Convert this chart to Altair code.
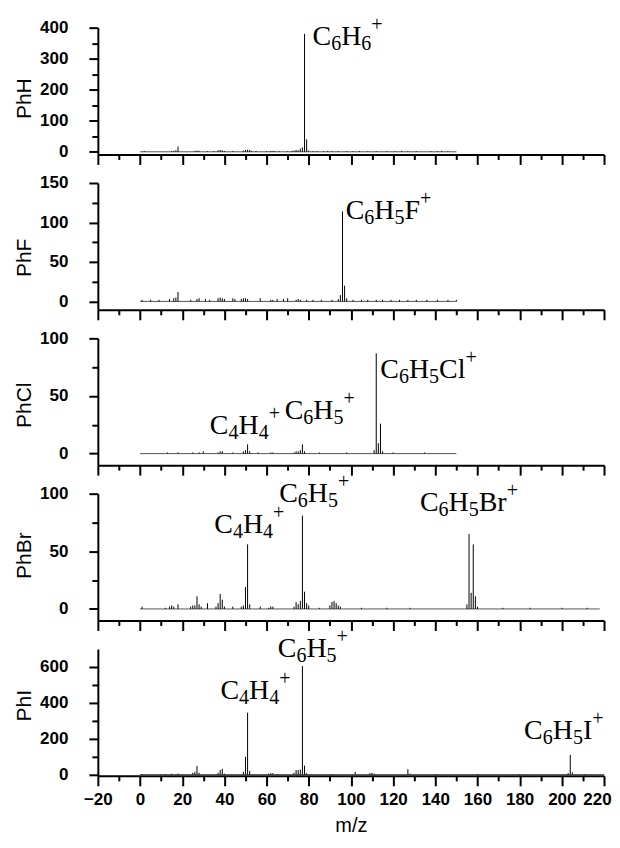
import altair as alt
import pandas as pd

# ---------------- data ----------------
panel_names = ["PhH", "PhF", "PhCl", "PhBr", "PhI"]

phh_mz = [2, 15, 16, 17, 18, 26, 27, 28, 32, 35, 37, 38, 39, 40, 44, 49, 50, 51, 52, 53, 55, 60, 62, 63, 64,
          66, 70, 72, 73, 74, 75, 76, 77, 78, 79, 80, 82, 84, 87, 89, 91, 94, 98, 101, 104, 108, 112, 117,
          121, 124, 127, 131, 138, 141, 143, 146]
phh_int = [3, 2, 3, 5, 17, 3, 4, 3, 2, 2, 5, 6, 5, 3, 3, 4, 6, 7, 6, 3, 3, 2, 3, 3, 2,
           2, 2, 3, 4, 6, 5, 10, 14, 380, 40, 4, 2, 2, 2, 3, 2, 2, 2, 2, 3, 2, 2, 2,
           2, 3, 2, 2, 2, 2, 3, 2]

phf_mz = [1, 5, 9, 14, 16, 17, 18, 24, 27, 28, 31, 33, 37, 38, 39, 40, 44, 45, 48, 49, 50, 51, 57, 62, 63,
          65, 68, 70, 74, 75, 76, 79, 82, 86, 91, 94, 95, 96, 97, 98, 101, 105, 108, 112, 115, 119, 123,
          127, 131, 136, 141, 146, 150]
phf_int = [2, 2, 2, 3, 4, 5, 12, 2, 3, 4, 3, 2, 4, 5, 4, 3, 4, 3, 3, 4, 4, 3, 4, 2, 2,
           3, 3, 4, 2, 3, 2, 2, 2, 2, 2, 3, 8, 114, 20, 4, 2, 2, 2, 2, 2, 2, 2,
           2, 2, 2, 2, 2, 2]

phcl_mz = [13, 18, 25, 28, 30, 37, 38, 39, 44, 49, 50, 51, 52, 56, 62, 63, 73, 74, 75, 76, 77, 78, 85, 98,
           111, 112, 113, 114, 115, 120, 135]
phcl_int = [1, 1, 1, 1, 2, 1, 2, 2, 1, 2, 3, 8, 2, 1, 1, 1, 1, 2, 2, 3, 8, 2, 1, 1,
            3, 87, 9, 26, 2, 1, 1]

phbr_mz = [1, 12, 14, 15, 16, 18, 24, 25, 26, 27, 28, 29, 32, 36, 37, 38, 39, 40, 44, 48, 49, 50, 51, 52,
           57, 61, 62, 63, 73, 74, 75, 76, 77, 78, 79, 80, 85, 90, 91, 92, 93, 94, 95, 105, 117, 128,
           155, 156, 157, 158, 159, 160, 172, 185, 200, 212]
phbr_int = [2, 1, 2, 3, 2, 4, 2, 3, 3, 11, 4, 2, 5, 2, 5, 13, 8, 2, 2, 2, 3, 19, 56, 4,
            2, 1, 2, 2, 2, 6, 4, 7, 81, 15, 5, 3, 1, 3, 6, 7, 5, 3, 2, 1, 1, 1,
            4, 65, 14, 56, 11, 2, 1, 1, 1, 1]

phi_mz = [1, 12, 15, 18, 25, 26, 27, 28, 37, 38, 39, 40, 49, 50, 51, 52, 61, 62, 63, 65, 73, 74, 75, 76,
          77, 78, 79, 91, 102, 109, 110, 111, 127, 128, 140, 160, 180, 203, 204, 205, 211]
phi_int = [3, 3, 5, 5, 10, 15, 48, 10, 10, 25, 32, 5, 15, 100, 345, 20, 5, 8, 8, 3, 10, 25, 25, 28,
           605, 50, 8, 3, 15, 8, 10, 5, 30, 5, 3, 3, 3, 8, 110, 12, 3]

spectra_mz = [phh_mz, phf_mz, phcl_mz, phbr_mz, phi_mz]
spectra_int = [phh_int, phf_int, phcl_int, phbr_int, phi_int]

# recorded m/z range of each trace (baseline)
trace_start = [0, 0, 0, 0, 0]
trace_end = [150, 150, 150, 218, 220]

# annotations: panel index, formula, m/z anchor, intensity anchor (text baseline)
ann_panel = [0, 1, 2, 2, 2, 3, 3, 3, 4, 4, 4]
ann_text = ["C6H6+", "C6H5F+", "C4H4+", "C6H5+", "C6H5Cl+",
            "C4H4+", "C6H5+", "C6H5Br+", "C4H4+", "C6H5+", "C6H5I+"]
ann_mz = [81.8, 97.5, 33.1, 68.6, 113.9, 35.2, 66.0, 132.7, 38.1, 65.3, 182.1]
ann_y = [344, 104, 17, 30, 66, 66.3, 92.7, 85, 423, 656, 199]

# axes
y_domains = [[-8.5, 400], [-10.6, 150], [-10, 100], [-10, 100], [-7, 700]]
y_tick_values = [[0, 50, 100, 150, 200, 250, 300, 350, 400],
                 [0, 25, 50, 75, 100, 125, 150],
                 [0, 25, 50, 75, 100],
                 [0, 25, 50, 75, 100],
                 [0, 100, 200, 300, 400, 500, 600]]
y_major_step = [100, 50, 50, 50, 200]
title_y = [70.6, 74.5, 66.5, 61.5, 56.3]
x_tick_values = list(range(-20, 221, 10))
X_DOMAIN = [-20, 220]

W, H = 507, 127
MAIN_SIZE, SMALL_SIZE = 28, 20
# Times-like advance widths (em)
ADV = {"C": 0.667, "H": 0.722, "F": 0.556, "I": 0.333, "B": 0.667, "r": 0.333, "l": 0.278, "+": 0.564}
PX_TO_MZ = (X_DOMAIN[1] - X_DOMAIN[0]) / W


def tokens_for(p, formula, mz0, y0):
    rows = []
    cum = 0.0
    for ch in formula:
        if ch.isdigit():
            kind, size, adv = "sub", SMALL_SIZE, 0.5
        elif ch == "+":
            kind, size, adv = "sup", SMALL_SIZE, ADV["+"]
        else:
            kind, size, adv = "main", MAIN_SIZE, ADV.get(ch, 0.6)
        rows.append({"p": p, "tok": ch, "kind": kind, "mz": mz0 + cum * PX_TO_MZ, "intensity": y0})
        cum += adv * size
    return rows


tok_rows = []
for p, f, m, y in zip(ann_panel, ann_text, ann_mz, ann_y):
    tok_rows += tokens_for(p, f, m, y)
tokens = pd.DataFrame(tok_rows)


def make_panel(i, last):
    df = pd.DataFrame({"mz": spectra_mz[i], "intensity": spectra_int[i]})
    df["zero"] = 0
    base = pd.DataFrame({"mz": [trace_start[i]], "mz_end": [trace_end[i]], "intensity": [0]})
    tk = tokens[tokens["p"] == i]

    xaxis = alt.Axis(
        values=x_tick_values,
        tickSize={"condition": {"test": "datum.value % 20 === 0", "value": 10}, "value": 5},
        labels=last,
        labelExpr="datum.value % 20 === 0 ? datum.label : ''",
        labelOffset={"condition": {"test": "datum.value === 220", "value": -7}, "value": 0},
        labelFlush=False,
        labelOverlap=False,
        labelPadding=6,
        title="m/z" if last else None,
        titlePadding=8,
        titleFontSize=20,
    )
    step = y_major_step[i]
    yaxis = alt.Axis(
        values=y_tick_values[i],
        tickSize={"condition": {"test": f"datum.value % {step} === 0", "value": 9}, "value": 6},
        labelExpr=f"datum.value % {step} === 0 ? datum.label : ''",
        labelPadding=21,
        labelOverlap=False,
        labelFlush=False,
        title=panel_names[i],
        titleX=-67,
        titleY=title_y[i],
        titleBaseline="alphabetic",
        titleAngle=270,
        titleAlign="center",
    )
    xs = alt.Scale(domain=X_DOMAIN, nice=False, zero=False)
    ys = alt.Scale(domain=y_domains[i], nice=False, zero=False)
    xt = "m/z" if last else None
    X = alt.X("mz:Q", scale=xs, axis=xaxis, title=xt)
    Y = alt.Y("intensity:Q", scale=ys, axis=yaxis, title=panel_names[i])

    baseline = alt.Chart(base).mark_rule(color="#555555", strokeWidth=1).encode(
        x=X, x2="mz_end:Q", y=Y)
    sticks = alt.Chart(df).mark_rule(color="black", strokeWidth=1).encode(
        x=X, y=Y, y2="zero:Q")
    layers = [baseline, sticks]
    styles = {"main": (MAIN_SIZE, 0), "sub": (SMALL_SIZE, 5), "sup": (SMALL_SIZE, -14)}
    for kind, (size, dy) in styles.items():
        sub = tk[tk["kind"] == kind]
        if len(sub):
            layers.append(alt.Chart(sub).mark_text(
                align="left", baseline="alphabetic", font="Liberation Serif",
                fontSize=size, dy=dy, color="black"
            ).encode(x=X, y=Y, text="tok:N"))
    return alt.layer(*layers).properties(width=W, height=H)


panels = [make_panel(i, i == 4) for i in range(5)]

chart = alt.vconcat(*panels, spacing=28.6, bounds="flush").properties(
    padding={"left": 5, "top": 6, "right": 0, "bottom": 0}
).configure_view(stroke=None).configure_axis(
    grid=False,
    domainColor="black",
    domainWidth=2,
    tickColor="black",
    tickWidth=2,
    labelFont="Liberation Sans",
    labelFontWeight="bold",
    labelFontSize=17,
    labelColor="black",
    titleFont="Liberation Sans",
    titleFontWeight="normal",
    titleFontSize=21,
    titleColor="black",
)

chart.save("out.html", embed_options={"renderer": "svg", "actions": False})
